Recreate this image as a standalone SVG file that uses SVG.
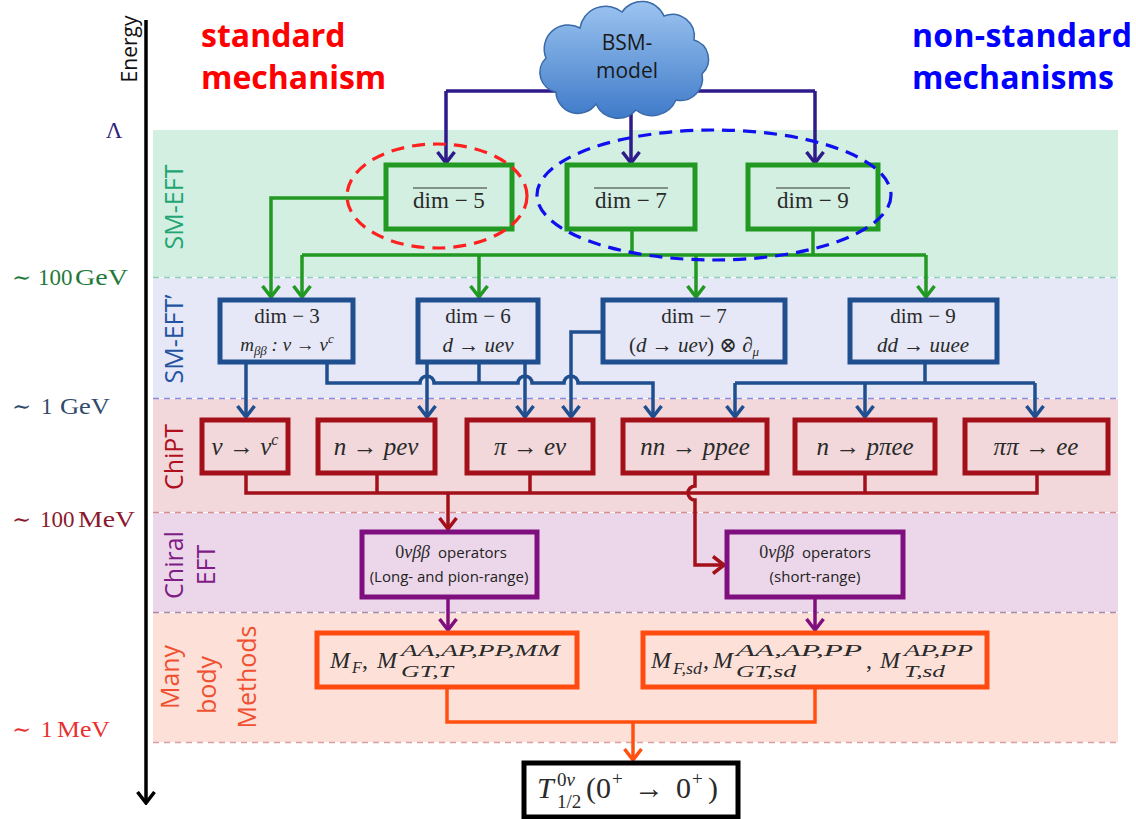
<svg xmlns="http://www.w3.org/2000/svg" width="1136" height="819" viewBox="0 0 1136 819">
<style>
.m{font-family:"Liberation Serif","DejaVu Serif",serif;font-style:italic;fill:#2a2a2a}
.r{font-family:"Liberation Serif","DejaVu Serif",serif;font-style:normal;fill:#2a2a2a}
.up{font-style:normal}
.s{font-family:"Open Sans","Liberation Sans",sans-serif}
.hdr{font-family:"Open Sans","Liberation Sans",sans-serif;font-weight:bold;font-size:32px}
.band{font-family:"Open Sans","Liberation Sans",sans-serif;font-size:25px;text-anchor:middle}
.lab{font-family:"Liberation Serif","DejaVu Serif",serif;font-size:23px}
.c{text-anchor:middle}
.sep{stroke-width:1.6;stroke-dasharray:6 5;fill:none}
.bx{stroke-width:5}
.cn{fill:none;stroke-width:3.5}
</style>
<defs>
<linearGradient id="cloudG" x1="0" y1="0" x2="0" y2="1">
<stop offset="0" stop-color="#9cc4f0"/>
<stop offset="1" stop-color="#3f7bc9"/>
</linearGradient>
<marker id="mG" viewBox="0 0 14 20" refX="12" refY="10" markerWidth="14" markerHeight="20" markerUnits="userSpaceOnUse" orient="auto"><path d="M1,1.5 L12,10 L1,18.5" fill="none" stroke="#229922" stroke-width="3.5"/></marker>
<marker id="mB" viewBox="0 0 14 20" refX="12" refY="10" markerWidth="14" markerHeight="20" markerUnits="userSpaceOnUse" orient="auto"><path d="M1,1.5 L12,10 L1,18.5" fill="none" stroke="#1f4f8f" stroke-width="3.5"/></marker>
<marker id="mR" viewBox="0 0 14 20" refX="12" refY="10" markerWidth="14" markerHeight="20" markerUnits="userSpaceOnUse" orient="auto"><path d="M1,1.5 L12,10 L1,18.5" fill="none" stroke="#a3101a" stroke-width="3.5"/></marker>
<marker id="mP" viewBox="0 0 14 20" refX="12" refY="10" markerWidth="14" markerHeight="20" markerUnits="userSpaceOnUse" orient="auto"><path d="M1,1.5 L12,10 L1,18.5" fill="none" stroke="#7f0f7f" stroke-width="3.5"/></marker>
<marker id="mO" viewBox="0 0 14 20" refX="12" refY="10" markerWidth="14" markerHeight="20" markerUnits="userSpaceOnUse" orient="auto"><path d="M1,1.5 L12,10 L1,18.5" fill="none" stroke="#ff5010" stroke-width="3.5"/></marker>
<marker id="mI" viewBox="0 0 14 20" refX="12" refY="10" markerWidth="14" markerHeight="20" markerUnits="userSpaceOnUse" orient="auto"><path d="M1,1.5 L12,10 L1,18.5" fill="none" stroke="#2e1a8a" stroke-width="3.5"/></marker>
<marker id="mK" viewBox="0 0 14 20" refX="12" refY="10" markerWidth="14" markerHeight="20" markerUnits="userSpaceOnUse" orient="auto"><path d="M1,1.5 L12,10 L1,18.5" fill="none" stroke="#000" stroke-width="3.5"/></marker>
</defs>
<rect width="1136" height="819" fill="#fff"/>

<!-- bands -->
<g id="bands">
<rect x="153" y="130" width="965" height="147" fill="#d2efe2"/>
<rect x="153" y="278" width="965" height="120" fill="#e6e8f7"/>
<rect x="153" y="399" width="965" height="113" fill="#f2d8db"/>
<rect x="153" y="513" width="965" height="99" fill="#ecd7ea"/>
<rect x="153" y="613" width="965" height="129" fill="#fde1d9"/>
<line class="sep" x1="153" y1="277.5" x2="1118" y2="277.5" stroke="#8fd0bb"/>
<line class="sep" x1="153" y1="398.5" x2="1118" y2="398.5" stroke="#8a8ae0"/>
<line class="sep" x1="153" y1="512.5" x2="1118" y2="512.5" stroke="#d88c8c"/>
<line class="sep" x1="153" y1="612.5" x2="1118" y2="612.5" stroke="#a88aaa"/>
<line class="sep" x1="153" y1="742.5" x2="1118" y2="742.5" stroke="#d8a0a0"/>
</g>

<!-- energy axis -->
<g id="axis">
<line x1="146" y1="20" x2="146" y2="803" stroke="#000" stroke-width="3.5" marker-end="url(#mK)"/>
<text transform="translate(137,49) rotate(-90)" class="s" font-size="21" text-anchor="middle" fill="#111">Energy</text>
<text x="114" y="138" class="lab" text-anchor="middle" fill="#302080">Λ</text>
<g fill="#1f7a3a"><text x="12" y="285" class="lab">∼</text><text x="38" y="285" class="lab">100</text><text x="75" y="285" class="lab" textLength="53" lengthAdjust="spacingAndGlyphs">GeV</text></g>
<g fill="#2f4a6a"><text x="12" y="414" class="lab">∼</text><text x="41" y="414" class="lab">1</text><text x="60" y="414" class="lab" textLength="50" lengthAdjust="spacingAndGlyphs">GeV</text></g>
<g fill="#8a1a30"><text x="12" y="527" class="lab">∼</text><text x="40" y="527" class="lab">100</text><text x="78" y="527" class="lab" textLength="57" lengthAdjust="spacingAndGlyphs">MeV</text></g>
<g fill="#e83030"><text x="12" y="737" class="lab">∼</text><text x="41" y="737" class="lab">1</text><text x="57" y="737" class="lab" textLength="53" lengthAdjust="spacingAndGlyphs">MeV</text></g>
</g>

<!-- band labels -->
<g id="band-labels">
<text class="band" transform="translate(183,207) rotate(-90)" fill="#22a572">SM-EFT</text>
<text class="band" transform="translate(183,339) rotate(-90)" fill="#2352a0">SM-EFT’</text>
<text class="band" transform="translate(183,457) rotate(-90)" fill="#b0101e">ChiPT</text>
<text class="band" transform="translate(183,565) rotate(-90)" fill="#7f1c85">Chiral</text>
<text class="band" transform="translate(215,565) rotate(-90)" fill="#7f1c85">EFT</text>
<text class="band" transform="translate(179,677) rotate(-90)" fill="#f05030">Many</text>
<text class="band" transform="translate(216,685) rotate(-90)" fill="#f05030">body</text>
<text class="band" transform="translate(256,677) rotate(-90)" fill="#f05030">Methods</text>
</g>

<!-- headers -->
<g id="headers">
<text x="201" y="47" class="hdr" fill="#ff0000">standard</text>
<text x="201" y="89" class="hdr" fill="#ff0000">mechanism</text>
<text x="912" y="47" class="hdr" fill="#0000ff" textLength="220">non-standard</text>
<text x="912" y="89" class="hdr" fill="#0000ff" textLength="202">mechanisms</text>
</g>

<!-- connectors -->
<g id="connectors">
<path class="cn" stroke="#2e1a8a" d="M446,91 H815"/>
<path class="cn" stroke="#2e1a8a" d="M446,91 V163" marker-end="url(#mI)"/>
<path class="cn" stroke="#2e1a8a" d="M631,106 V163" marker-end="url(#mI)"/>
<path class="cn" stroke="#2e1a8a" d="M815,91 V163" marker-end="url(#mI)"/>
<path class="cn" stroke="#229922" d="M386,198 H271 V297" marker-end="url(#mG)"/>
<path class="cn" stroke="#229922" d="M632,230 V255 M813,230 V255 M302,255 H926"/>
<path class="cn" stroke="#229922" d="M302,255 V297" marker-end="url(#mG)"/>
<path class="cn" stroke="#229922" d="M479,255 V297" marker-end="url(#mG)"/>
<path class="cn" stroke="#229922" d="M696,255 V297" marker-end="url(#mG)"/>
<path class="cn" stroke="#229922" d="M926,255 V297" marker-end="url(#mG)"/>
<path class="cn" stroke="#1f4f8f" d="M246,362 V417" marker-end="url(#mB)"/>
<path class="cn" stroke="#1f4f8f" d="M327,362 V383 H420 A7,7 0 0 1 434,383 H518 A7,7 0 0 1 532,383 H564 A7,7 0 0 1 578,383 H653 V417" marker-end="url(#mB)"/>
<path class="cn" stroke="#1f4f8f" d="M479,362 V383"/>
<path class="cn" stroke="#1f4f8f" d="M427,362 V417" marker-end="url(#mB)"/>
<path class="cn" stroke="#1f4f8f" d="M525,362 V417" marker-end="url(#mB)"/>
<path class="cn" stroke="#1f4f8f" d="M603,332 H571 V417" marker-end="url(#mB)"/>
<path class="cn" stroke="#1f4f8f" d="M925,362 V383 M735,383 H1035"/>
<path class="cn" stroke="#1f4f8f" d="M735,383 V417" marker-end="url(#mB)"/>
<path class="cn" stroke="#1f4f8f" d="M865,383 V417" marker-end="url(#mB)"/>
<path class="cn" stroke="#1f4f8f" d="M1035,383 V417" marker-end="url(#mB)"/>
<path class="cn" stroke="#a3101a" d="M246,473 V493 H1037 V473 M377,473 V493 M530,473 V493 M865,473 V493"/>
<path class="cn" stroke="#a3101a" d="M448,493 V529" marker-end="url(#mR)"/>
<path class="cn" stroke="#a3101a" d="M695,473 V486 A7,7 0 0 0 695,500 V565 H724" marker-end="url(#mR)"/>
<path class="cn" stroke="#7f0f7f" d="M448,597 V630" marker-end="url(#mP)"/>
<path class="cn" stroke="#7f0f7f" d="M815,597 V630" marker-end="url(#mP)"/>
<path class="cn" stroke="#ff5010" d="M447,687 V722 H815 V687"/>
<path class="cn" stroke="#ff5010" d="M633,722 V760" marker-end="url(#mO)"/>
</g>

<!-- BSM cloud -->
<g id="bsm-model">
<path d="M556,92 A20,20 0 0 1 546,58 A24,24 0 0 1 580,28 A26,26 0 0 1 622,12 A24,24 0 0 1 664,16 A22,22 0 0 1 694,40 A20,20 0 0 1 702,74 A22,22 0 0 1 676,100 A26,26 0 0 1 636,110 A24,24 0 0 1 596,104 A22,22 0 0 1 556,92 Z" fill="url(#cloudG)" stroke="#3a6aa8" stroke-width="1.5"/>
<text x="627" y="50" class="s c" font-size="21" fill="#1a1a1a">BSM-</text>
<text x="627" y="78" class="s c" font-size="21" fill="#1a1a1a">model</text>
</g>

<!-- SM-EFT boxes -->
<g id="dim5">
<rect class="bx" x="386" y="165" width="126" height="64" fill="#d2efe2" stroke="#229922"/>
<line x1="413" y1="188" x2="487" y2="188" stroke="#333" stroke-width="1.2"/>
<text x="449" y="208" class="r c" font-size="23">dim − 5</text>
</g>
<g id="dim7">
<rect class="bx" x="567" y="165" width="128" height="64" fill="#d2efe2" stroke="#229922"/>
<line x1="594" y1="188" x2="668" y2="188" stroke="#333" stroke-width="1.2"/>
<text x="631" y="208" class="r c" font-size="23">dim − 7</text>
</g>
<g id="dim9">
<rect class="bx" x="748" y="165" width="130" height="64" fill="#d2efe2" stroke="#229922"/>
<line x1="776" y1="188" x2="850" y2="188" stroke="#333" stroke-width="1.2"/>
<text x="813" y="208" class="r c" font-size="23">dim − 9</text>
</g>

<!-- SM-EFT' boxes -->
<g id="dim3p">
<rect class="bx" x="220" y="300" width="133" height="62" fill="#e6e8f7" stroke="#1f4f8f"/>
<text x="287" y="323" class="r c" font-size="21">dim − 3</text>
<text x="287" y="351" class="m c" font-size="19">m<tspan font-size="13" dy="4">ββ</tspan><tspan dy="-4"> : ν </tspan><tspan class="up">→</tspan><tspan> ν</tspan><tspan font-size="13" dy="-8">c</tspan></text>
</g>
<g id="dim6p">
<rect class="bx" x="418" y="300" width="120" height="62" fill="#e6e8f7" stroke="#1f4f8f"/>
<text x="478" y="323" class="r c" font-size="21">dim − 6</text>
<text x="478" y="352" class="m c" font-size="21">d <tspan class="up">→</tspan> ueν</text>
</g>
<g id="dim7p">
<rect class="bx" x="603" y="300" width="182" height="62" fill="#e6e8f7" stroke="#1f4f8f"/>
<text x="694" y="323" class="r c" font-size="21">dim − 7</text>
<text x="694" y="352" class="m c" font-size="21"><tspan class="up">(</tspan>d <tspan class="up">→</tspan> ueν<tspan class="up">) ⊗ </tspan>∂<tspan font-size="13" dy="4">μ</tspan></text>
</g>
<g id="dim9p">
<rect class="bx" x="850" y="300" width="147" height="62" fill="#e6e8f7" stroke="#1f4f8f"/>
<text x="923" y="323" class="r c" font-size="21">dim − 9</text>
<text x="923" y="352" class="m c" font-size="21">dd <tspan class="up">→</tspan> uuee</text>
</g>

<!-- ChiPT boxes -->
<g id="nu-nuc">
<rect class="bx" x="202" y="420" width="86" height="53" fill="#f2d8db" stroke="#a3101a"/>
<text x="245" y="455" class="m c" font-size="25">ν <tspan class="up">→</tspan> ν<tspan font-size="16" dy="-10">c</tspan></text>
</g>
<g id="n-penu">
<rect class="bx" x="318" y="420" width="117" height="53" fill="#f2d8db" stroke="#a3101a"/>
<text x="376" y="455" class="m c" font-size="25">n <tspan class="up">→</tspan> peν</text>
</g>
<g id="pi-enu">
<rect class="bx" x="467" y="420" width="126" height="53" fill="#f2d8db" stroke="#a3101a"/>
<text x="530" y="455" class="m c" font-size="25">π <tspan class="up">→</tspan> eν</text>
</g>
<g id="nn-ppee">
<rect class="bx" x="623" y="420" width="144" height="53" fill="#f2d8db" stroke="#a3101a"/>
<text x="695" y="455" class="m c" font-size="25">nn <tspan class="up">→</tspan> ppee</text>
</g>
<g id="n-ppiee">
<rect class="bx" x="795" y="420" width="140" height="53" fill="#f2d8db" stroke="#a3101a"/>
<text x="865" y="455" class="m c" font-size="25">n <tspan class="up">→</tspan> pπee</text>
</g>
<g id="pipi-ee">
<rect class="bx" x="965" y="420" width="143" height="53" fill="#f2d8db" stroke="#a3101a"/>
<text x="1036" y="455" class="m c" font-size="25">ππ <tspan class="up">→</tspan> ee</text>
</g>

<!-- Chiral EFT boxes -->
<g id="long-range">
<rect class="bx" x="362" y="532" width="175" height="65" fill="#ecd7ea" stroke="#7f0f7f"/>
<text x="451" y="558" class="c"><tspan class="r" font-size="18">0</tspan><tspan class="m" font-size="18">νββ</tspan><tspan class="s" font-size="15" dx="8" fill="#222">operators</tspan></text>
<text x="449" y="582" class="s c" font-size="15" fill="#222">(Long- and pion-range)</text>
</g>
<g id="short-range">
<rect class="bx" x="727" y="532" width="176" height="65" fill="#ecd7ea" stroke="#7f0f7f"/>
<text x="815" y="558" class="c"><tspan class="r" font-size="18">0</tspan><tspan class="m" font-size="18">νββ</tspan><tspan class="s" font-size="15" dx="8" fill="#222">operators</tspan></text>
<text x="815" y="582" class="s c" font-size="15" fill="#222">(short-range)</text>
</g>

<!-- Many body boxes -->
<g id="mb-left">
<rect class="bx" x="317" y="633" width="260" height="54" fill="#fde1d9" stroke="#ff4a10"/>
<text x="330" y="668" class="m" font-size="24">M</text>
<text x="352" y="673" class="m" font-size="16">F</text>
<text x="362" y="668" class="r" font-size="24">,</text>
<text x="377" y="668" class="m" font-size="24">M</text>
<text x="401" y="656" class="m" font-size="17" textLength="159" lengthAdjust="spacingAndGlyphs">AA,AP,PP,MM</text>
<text x="401" y="677" class="m" font-size="17" textLength="52" lengthAdjust="spacingAndGlyphs">GT,T</text>
</g>
<g id="mb-right">
<rect class="bx" x="643" y="633" width="344" height="54" fill="#fde1d9" stroke="#ff4a10"/>
<text x="651" y="668" class="m" font-size="24">M</text>
<text x="673" y="674" class="m" font-size="16" textLength="29" lengthAdjust="spacingAndGlyphs">F,sd</text>
<text x="703" y="668" class="r" font-size="24">,</text>
<text x="713" y="668" class="m" font-size="24">M</text>
<text x="736" y="656" class="m" font-size="17" textLength="126" lengthAdjust="spacingAndGlyphs">AA,AP,PP</text>
<text x="736" y="677" class="m" font-size="17" textLength="60" lengthAdjust="spacingAndGlyphs">GT,sd</text>
<text x="866" y="668" class="r" font-size="24">,</text>
<text x="880" y="668" class="m" font-size="24">M</text>
<text x="904" y="656" class="m" font-size="17" textLength="69" lengthAdjust="spacingAndGlyphs">AP,PP</text>
<text x="904" y="677" class="m" font-size="17" textLength="41" lengthAdjust="spacingAndGlyphs">T,sd</text>
</g>

<!-- Result -->
<g id="half-life">
<rect x="524" y="763" width="214" height="54" fill="#fff" stroke="#000" stroke-width="5"/>
<text x="537" y="798" class="m" font-size="30">T</text>
<text x="557" y="786" class="m" font-size="19"><tspan class="up">0</tspan>ν</text>
<text x="557" y="808" class="r" font-size="19">1/2</text>
<text x="586" y="798" class="r" font-size="30">(0</text>
<text x="612" y="785" class="r" font-size="19">+</text>
<text x="634" y="798" class="r" font-size="30">→</text>
<text x="676" y="798" class="r" font-size="30">0</text>
<text x="692" y="785" class="r" font-size="19">+</text>
<text x="708" y="798" class="r" font-size="30">)</text>
</g>

<!-- mechanism groupings -->
<g id="groupings">
<ellipse cx="437" cy="196" rx="90" ry="52" fill="none" stroke="#ff2020" stroke-width="3.2" stroke-dasharray="13 8"/>
<ellipse cx="714" cy="195" rx="177" ry="65" fill="none" stroke="#1010ee" stroke-width="3.2" stroke-dasharray="13 8"/>
</g>
</svg>
